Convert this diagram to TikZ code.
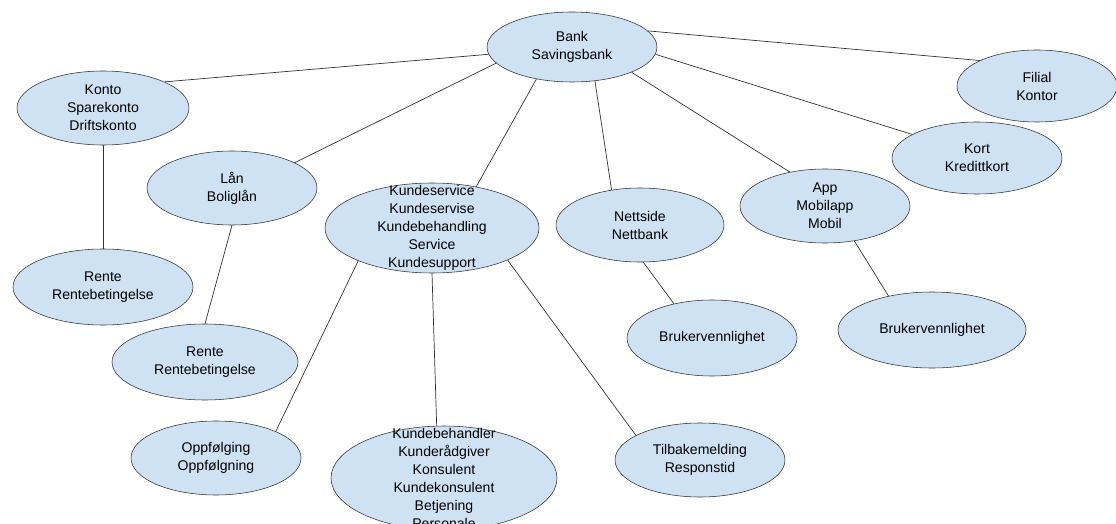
\documentclass[tikz,border=0pt]{standalone}
\usepackage{fontspec}
\setmainfont{Liberation Sans}
\usetikzlibrary{shapes.geometric}
\definecolor{bubblefill}{HTML}{CFE2F3}

\begin{document}
\begin{tikzpicture}[x=0.025cm, y=-0.025cm,
    words/.style={align=center, font=\fontsize{10}{12.8}\selectfont},
    bubble/.style 2 args={ellipse, draw=black!80, fill=bubblefill, inner sep=0pt,
        minimum width=#1*0.025cm, minimum height=#2*0.025cm, words},
    link/.style={black!80, line width=0.5pt}]
\clip (0,0) rectangle (1116,524);

% top row
\node[bubble={170}{70}] (bank) at (572,47) {Bank\\Savingsbank};
\node[bubble={172}{74}] (konto) at (103,108) {Konto\\Sparekonto\\Driftskonto};
\node[bubble={160}{72}] (filial) at (1037,86) {Filial\\Kontor};
\node[bubble={170}{72}] (kort) at (977,158) {Kort\\Kredittkort};

% second row
\node[bubble={170}{74}] (laan) at (232,188) {Lån\\Boliglån};
\node[bubble={214}{90}, label={[words]center:Kundeservice\\Kundeservise\\Kundebehandling\\Service\\Kundesupport}] (kservice) at (432,228) {};
\node[bubble={168}{74}] (nettside) at (640,225) {Nettside\\Nettbank};
\node[bubble={170}{74}] (app) at (825,206) {App\\Mobilapp\\Mobil};

% third row
\node[bubble={180}{76}] (rente1) at (103,287) {Rente\\Rentebetingelse};
\node[bubble={186}{76}] (rente2) at (205,362) {Rente\\Rentebetingelse};
\node[bubble={170}{76}] (bruker1) at (712,338) {Brukervennlighet};
\node[bubble={188}{76}] (bruker2) at (932,330) {Brukervennlighet};

% bottom row
\node[bubble={170}{74}] (oppf) at (216,458) {Oppfølging\\Oppfølgning};
\node[bubble={226}{104}, label={[words]center:Kundebehandler\\Kunderådgiver\\Konsulent\\Kundekonsulent\\Betjening\\Personale}] (kbehandler) at (444,478) {};
\node[bubble={170}{74}] (tilbake) at (700,460) {Tilbakemelding\\Responstid};

\draw[link]
    (bank.185) edge (konto.23)
    (bank.192) edge (laan.22)
    (bank.222) edge (kservice.43)
    (bank.304) edge (nettside.129)
    (bank.337) edge (app.136)
    (bank.355) edge (kort.160)
    (bank.12) edge (filial.156)
    (konto.south) edge (rente1.north)
    (laan.south) edge (rente2.north)
    (kservice.204) edge (oppf.24)
    (kservice.south) edge (kbehandler.98)
    (kservice.337) edge (tilbake.159)
    (nettside.275) edge (bruker1.138)
    (app.310) edge (bruker2.142);
\end{tikzpicture}
\end{document}
